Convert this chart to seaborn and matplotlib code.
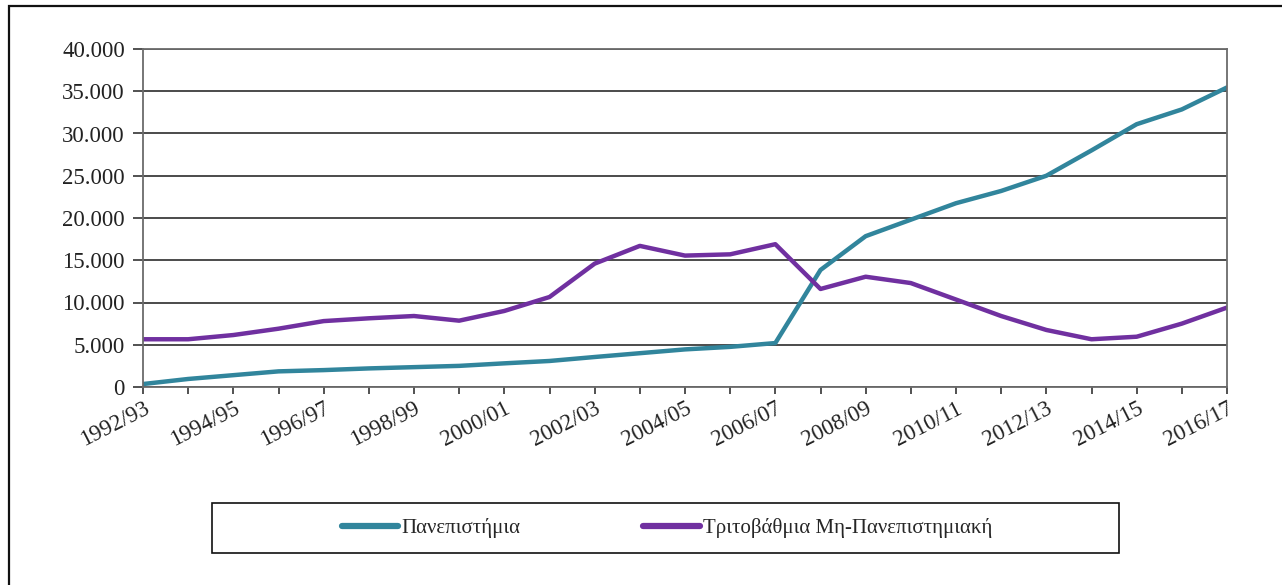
"""Enrolment trend: universities vs non-university tertiary, 1992/93-2016/17."""

import matplotlib

matplotlib.use("Agg")
import matplotlib.pyplot as plt
import pandas as pd
import seaborn as sns
from matplotlib.patches import Rectangle
from matplotlib.ticker import FuncFormatter

years = [
    "1992/93", "1993/94", "1994/95", "1995/96", "1996/97", "1997/98", "1998/99",
    "1999/00", "2000/01", "2001/02", "2002/03", "2003/04", "2004/05", "2005/06",
    "2006/07", "2007/08", "2008/09", "2009/10", "2010/11", "2011/12", "2012/13",
    "2013/14", "2014/15", "2015/16", "2016/17",
]
universities = [
    350, 950, 1400, 1850, 2000, 2200, 2350, 2500, 2800, 3080, 3550, 4000, 4450,
    4750, 5200, 13850, 17850, 19800, 21750, 23200, 25000, 28000, 31100, 32850,
    35450,
]
non_university = [
    5650, 5650, 6150, 6900, 7800, 8130, 8400, 7850, 9000, 10650, 14600, 16700,
    15550, 15700, 16900, 11600, 13050, 12300, 10350, 8400, 6750, 5650, 5950,
    7500, 9400,
]
series_names = ["Πανεπιστήμια", "Τριτοβάθμια Μη-Πανεπιστημιακή"]
colors = ["#31859C", "#7030A0"]

df = pd.DataFrame(
    {
        "idx": list(range(len(years))) * 2,
        "value": universities + non_university,
        "series": [series_names[0]] * len(years) + [series_names[1]] * len(years),
    }
)

sns.set_style("white")
plt.rcParams["font.family"] = ["Liberation Serif", "DejaVu Serif"]

W, H = 1282, 585
fig = plt.figure(figsize=(W / 100, H / 100), dpi=100)
ax = fig.add_axes([143 / W, 1 - 387 / H, (1227 - 143) / W, (387 - 49) / H])

sns.lineplot(
    data=df, x="idx", y="value", hue="series", hue_order=series_names,
    palette=colors, linewidth=3.2, ax=ax, legend=False,
)

ax.set_xlim(0, len(years) - 1)
ax.set_ylim(0, 40000)
ax.set_yticks(range(0, 40001, 5000))
ax.yaxis.set_major_formatter(FuncFormatter(lambda v, _: f"{int(v):,}".replace(",", ".")))
ax.set_xticks(range(len(years)))
ax.set_xticklabels([y if i % 2 == 0 else "" for i, y in enumerate(years)])
for lab in ax.get_xticklabels():
    lab.set_rotation(27)
    lab.set_ha("right")
    lab.set_va("top")
    lab.set_rotation_mode("anchor")

ax.grid(axis="y", color="#1a1a1a", linewidth=1.1)
ax.set_axisbelow(True)
for side in ("left", "bottom", "right", "top"):
    ax.spines[side].set_visible(True)
    ax.spines[side].set_color("#6b6b6b")
    ax.spines[side].set_linewidth(1.3)
ax.tick_params(axis="y", length=7, width=1.2, color="#333333", pad=6,
               labelsize=16.5, labelcolor="#222222", left=True)
ax.tick_params(axis="x", length=5, width=1.2, color="#333333", pad=3,
               labelsize=16.5, labelcolor="#222222", bottom=True)
ax.set_xlabel("")
ax.set_ylabel("")

# legend box, drawn separately to match the wide framed strip
fig.patches.append(
    Rectangle((212 / W, 1 - 553 / H), (1119 - 212) / W, 50 / H,
              transform=fig.transFigure, fill=False, edgecolor="#111111", linewidth=1.2)
)
handles = [plt.Line2D([], [], color=c, linewidth=4.5, solid_capstyle="round") for c in colors]
fig.legend(
    handles, series_names, loc="center", bbox_to_anchor=(667 / W, 1 - 528 / H),
    ncol=2, frameon=False, fontsize=15, handlelength=2.7, handletextpad=0.15,
    columnspacing=5.9,
)

# outer frame of the surrounding document box
fig.patches.append(
    Rectangle((9 / W, -0.1), 1.2, 1.1 - 6 / H, transform=fig.transFigure,
              fill=False, edgecolor="#111111", linewidth=1.6)
)

fig.savefig("out.png", dpi=100)
